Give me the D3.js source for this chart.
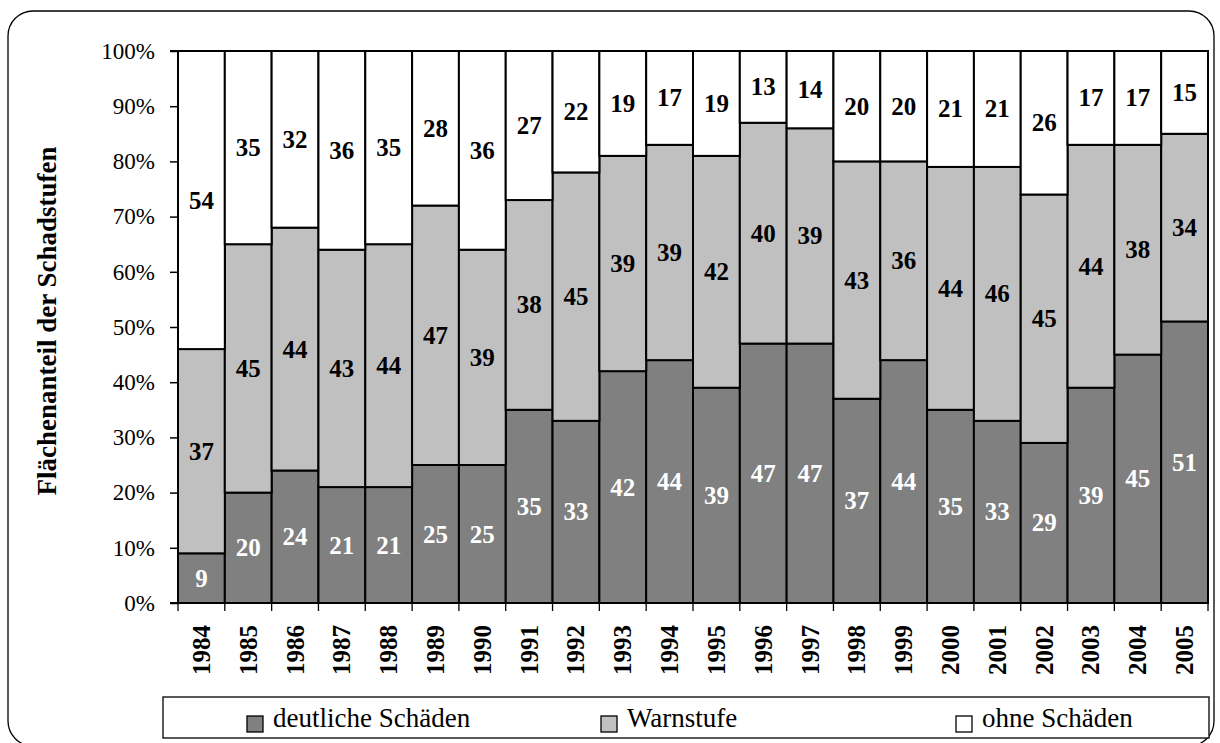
<!DOCTYPE html>
<html><head><meta charset="utf-8">
<script src="https://cdn.jsdelivr.net/npm/d3@7"></script>
<style>body{margin:0;background:#fff}svg{display:block}</style>
</head><body>
<script>
const years = ["1984","1985","1986","1987","1988","1989","1990","1991","1992","1993","1994","1995","1996","1997","1998","1999","2000","2001","2002","2003","2004","2005"];
const deutlich = [9,20,24,21,21,25,25,35,33,42,44,39,47,47,37,44,35,33,29,39,45,51];
const warn = [37,45,44,43,44,47,39,38,45,39,39,42,40,39,43,36,44,46,45,44,38,34];
const ohne = [54,35,32,36,35,28,36,27,22,19,17,19,13,14,20,20,21,21,26,17,17,15];
const seriesNames = ["deutliche Schäden","Warnstufe","ohne Schäden"];
const yTicks = [0,10,20,30,40,50,60,70,80,90,100];
const yTitle = "Flächenanteil der Schadstufen";

const W = 1220, H = 743;
const font = "'Liberation Serif','Times New Roman',serif";
const colors = ["#808080","#c0c0c0","#ffffff"];
const textColors = ["#ffffff","#000000","#000000"];

const svg = d3.select("body").append("svg").attr("width", W).attr("height", H);

// outer rounded frame
svg.append("rect").attr("x",8).attr("y",11).attr("width",1206).attr("height",735)
  .attr("rx",25).attr("ry",25).attr("fill","none").attr("stroke","#000").attr("stroke-width",1.3);

const plot = {left:178, right:1208, top:51, bottom:603};
const x = d3.scaleBand().domain(years).range([plot.left, plot.right]).padding(0);
const y = d3.scaleLinear().domain([0,100]).range([plot.bottom, plot.top]);

const rows = years.map((yr,i)=>({year:yr, d:deutlich[i], w:warn[i], o:ohne[i]}));
const stack = d3.stack().keys(["d","w","o"])(rows);

const g = svg.append("g");
stack.forEach((layer, si) => {
  g.append("g").selectAll("rect").data(layer).join("rect")
    .attr("x", d => x(d.data.year))
    .attr("y", d => y(d[1]))
    .attr("width", x.bandwidth())
    .attr("height", d => y(d[0]) - y(d[1]))
    .attr("fill", colors[si])
    .attr("stroke","#000").attr("stroke-width",2);
});
stack.forEach((layer, si) => {
  g.append("g").selectAll("text").data(layer).join("text")
    .attr("x", d => x(d.data.year) + x.bandwidth()/2)
    .attr("y", d => y((d[0]+d[1])/2))
    .attr("text-anchor","middle").attr("dominant-baseline","central")
    .attr("font-family", font).attr("font-weight","bold").attr("font-size", 25)
    .attr("fill", textColors[si])
    .text(d => d[1]-d[0]);
});

// y axis
const yAxis = d3.axisLeft(y).tickValues(yTicks).tickSize(8).tickFormat(d => d + "%");
const ya = svg.append("g").attr("transform", `translate(${plot.left},0)`).call(yAxis);
ya.select(".domain").attr("stroke","#000").attr("stroke-width",2).attr("d", `M-8,${plot.top}H0V${plot.bottom}H-8`);
ya.selectAll(".tick line").attr("stroke","#000").attr("stroke-width",1.5);
ya.selectAll(".tick text").attr("font-family", font).attr("font-size", 23).attr("fill","#000").attr("x",-23);

// x axis
const xa = svg.append("g").attr("transform", `translate(0,${plot.bottom})`);
xa.append("line").attr("x1",plot.left).attr("x2",plot.right).attr("y1",0).attr("y2",0).attr("stroke","#000").attr("stroke-width",2);
const bounds = years.map(yr => x(yr)).concat([x(years[years.length-1]) + x.bandwidth()]);
xa.selectAll("line.tk").data(bounds).join("line").attr("class","tk")
  .attr("x1",d=>d).attr("x2",d=>d).attr("y1",0).attr("y2",8).attr("stroke","#000").attr("stroke-width",1.3);
xa.selectAll("text").data(years).join("text")
  .attr("transform", d => `translate(${x(d)+x.bandwidth()/2},22) rotate(-90)`)
  .attr("text-anchor","end").attr("dominant-baseline","central")
  .attr("font-family", font).attr("font-weight","bold").attr("font-size", 25)
  .text(d => d);

// y title
svg.append("text").attr("transform","translate(47,321) rotate(-90)")
  .attr("text-anchor","middle").attr("dominant-baseline","central")
  .attr("font-family", font).attr("font-weight","bold").attr("font-size", 27)
  .text(yTitle);

// legend
const leg = svg.append("g");
leg.append("rect").attr("x",163).attr("y",697).attr("width",1046).attr("height",41)
  .attr("fill","#fff").attr("stroke","#000").attr("stroke-width",1.3);
const legX = [247, 601, 956];
seriesNames.forEach((name,i) => {
  leg.append("rect").attr("x",legX[i]).attr("y",716).attr("width",16).attr("height",16)
    .attr("fill",colors[i]).attr("stroke","#000").attr("stroke-width",1.3);
  leg.append("text").attr("x",legX[i]+26).attr("y",727)
    .attr("font-family", font).attr("font-size", 27).text(name);
});
</script>
</body></html>
